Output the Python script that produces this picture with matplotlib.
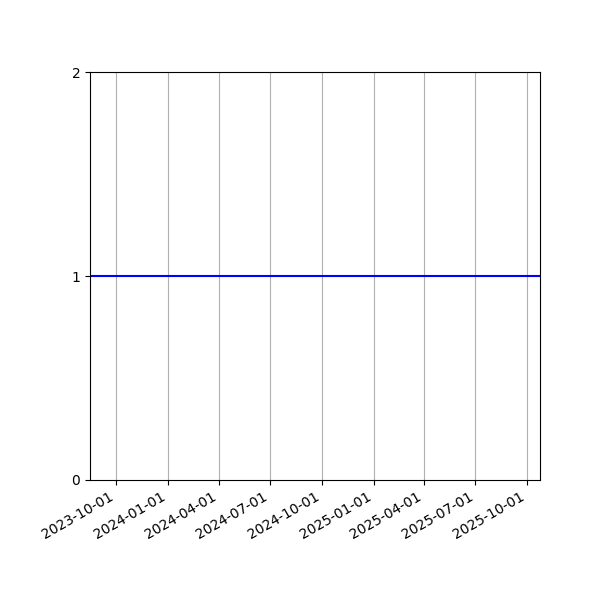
import matplotlib
matplotlib.use("Agg")
import matplotlib.pyplot as plt
import matplotlib.dates as mdates
import numpy as np

# series: flat at 1 over the whole period
dates = np.array(["2023-08-16", "2024-01-01", "2024-07-01", "2025-01-01",
                  "2025-07-01", "2025-10-24"], dtype="datetime64[D]")
values = [1, 1, 1, 1, 1, 1]

y_ticks = [0, 1, 2]

fig, ax = plt.subplots(figsize=(6, 6), dpi=100)

ax.plot(dates, values, color="blue", linewidth=1.5)

ax.set_xlim(dates[0], dates[-1])
ax.set_ylim(0, 2)
ax.set_yticks(y_ticks)

ax.xaxis.set_major_locator(mdates.MonthLocator(bymonth=[1, 4, 7, 10]))
ax.xaxis.set_major_formatter(mdates.DateFormatter("%Y-%m-%d"))
ax.grid(axis="x", color="#b0b0b0")

fig.autofmt_xdate()
fig.subplots_adjust(left=0.15, right=0.9, top=0.88, bottom=0.2)

fig.savefig("out.png")
